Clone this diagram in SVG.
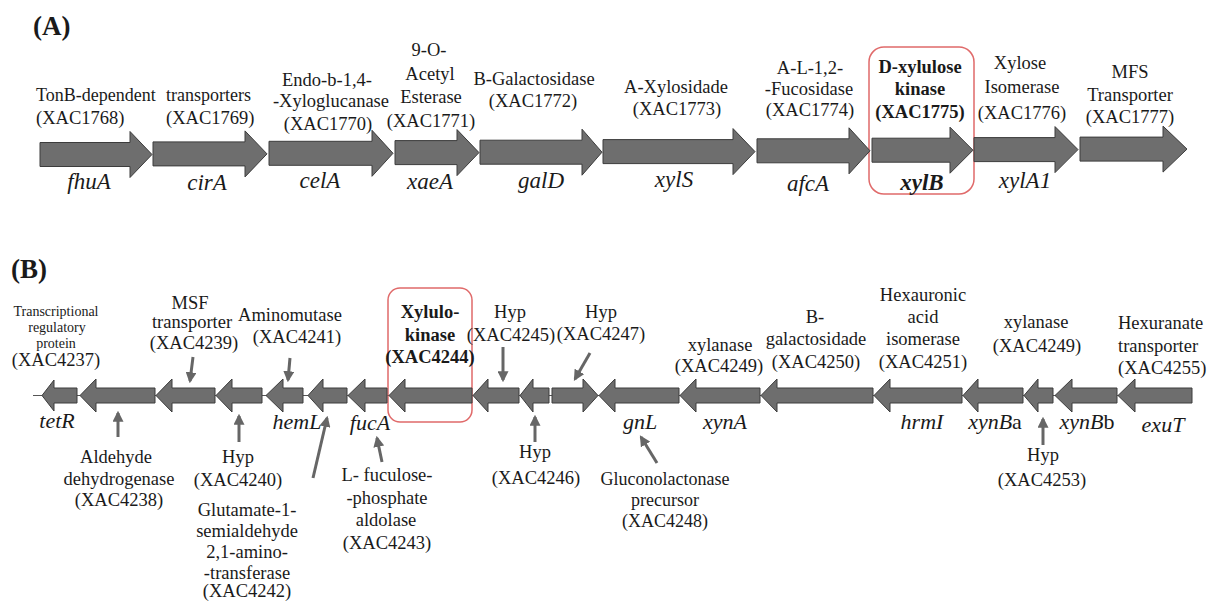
<svg xmlns="http://www.w3.org/2000/svg" width="1210" height="602" viewBox="0 0 1210 602" font-family="'Liberation Serif', 'Times New Roman', Tinos, 'DejaVu Serif', serif">
<style>
text{fill:#1a1a1a}
.l{font-size:18.5px}
.id{font-size:18.5px}
.s18{font-size:18px}
.sm{font-size:14px}
.g{font-size:23px;font-style:italic}
.gb{font-size:22px;font-style:italic}
.b{font-weight:bold}
.m{text-anchor:middle}
.pl{font-size:27px;font-weight:bold}
.gene{fill:#6e6e6e;stroke:#3c3c3c;stroke-width:1}
.hl{fill:none;stroke:#e06a6a;stroke-width:1.5}
.ptr{stroke:#666;stroke-width:3;fill:none}
</style>
<defs>
<marker id="ah" viewBox="0 0 10 10" refX="8" refY="5" markerUnits="userSpaceOnUse" markerWidth="11" markerHeight="11" orient="auto">
<path d="M0,0 L10,5 L0,10 Z" fill="#666"/>
</marker>
</defs>
<rect width="1210" height="602" fill="#fff"/>

<text class="pl" x="33" y="35">(A)</text>
<text class="pl" x="11" y="278">(B)</text>

<rect class="hl" x="869" y="47" width="105" height="147" rx="15"/>

<g id="fhuA"><path class="gene" d="M40,142.5 L130,142.5 L130,131.5 L152,154.5 L130,177.5 L130,166.5 L40,166.5 Z"/>
<text class="s18" x="36" y="101">TonB-dependent</text><text class="id" x="36" y="124">(XAC1768)</text>
<text class="g m" x="89" y="189">fhuA</text></g>
<g id="cirA"><path class="gene" d="M153,141.9 L245,141.9 L245,130.9 L267,153.9 L245,176.9 L245,165.9 L153,165.9 Z"/>
<text class="s18" x="166" y="101">transporters</text><text class="id" x="166" y="124">(XAC1769)</text>
<text class="g m" x="207" y="190">cirA</text></g>
<g id="celA"><path class="gene" d="M269,141.3 L372,141.3 L372,130.3 L393,153.3 L372,176.3 L372,165.3 L269,165.3 Z"/>
<text class="l m" x="327" y="86">Endo-b-1,4-</text><text class="l m" x="331" y="107">-Xyloglucanase</text><text class="id m" x="328" y="130">(XAC1770)</text>
<text class="g m" x="320" y="188">celA</text></g>
<g id="xaeA"><path class="gene" d="M395,140.6 L457,140.6 L457,129.6 L479,152.6 L457,175.6 L457,164.6 L395,164.6 Z"/>
<text class="l m" x="429" y="56">9-O-</text><text class="l m" x="430" y="80">Acetyl</text><text class="l m" x="431" y="103">Esterase</text><text class="id m" x="431" y="127">(XAC1771)</text>
<text class="g m" x="430" y="189">xaeA</text></g>
<g id="galD"><path class="gene" d="M480,140.2 L582,140.2 L582,129.2 L602,152.2 L582,175.2 L582,164.2 L480,164.2 Z"/>
<text class="l m" x="534" y="85">B-Galactosidase</text><text class="id m" x="533" y="107">(XAC1772)</text>
<text class="g m" x="541" y="188">galD</text></g>
<g id="xylS"><path class="gene" d="M603,139.6 L733,139.6 L733,128.6 L755,151.6 L733,174.6 L733,163.6 L603,163.6 Z"/>
<text class="l m" x="676" y="93">A-Xylosidade</text><text class="id m" x="677" y="115">(XAC1773)</text>
<text class="g m" x="674" y="187">xylS</text></g>
<g id="afcA"><path class="gene" d="M757,138.8 L849,138.8 L849,127.8 L870,150.8 L849,173.8 L849,162.8 L757,162.8 Z"/>
<text class="l m" x="810" y="74">A-L-1,2-</text><text class="l m" x="809" y="95">-Fucosidase</text><text class="id m" x="810" y="116">(XAC1774)</text>
<text class="g m" x="808" y="191">afcA</text></g>
<g id="xylB"><path class="gene" d="M872,138.2 L950,138.2 L950,127.2 L973,150.2 L950,173.2 L950,162.2 L872,162.2 Z"/>
<text class="l m b" x="920" y="73">D-xylulose</text><text class="l m b" x="920" y="95">kinase</text><text class="id m b" x="920" y="118">(XAC1775)</text>
<text class="g m b" x="922" y="190">xylB</text></g>
<g id="xylA1"><path class="gene" d="M974,137.6 L1055,137.6 L1055,126.6 L1078,149.6 L1055,172.6 L1055,161.6 L974,161.6 Z"/>
<text class="l m" x="1020" y="69">Xylose</text><text class="l m" x="1022" y="93">Isomerase</text><text class="id m" x="1022" y="119">(XAC1776)</text>
<text class="g m" x="1025" y="188">xylA1</text></g>
<g id="mfs"><path class="gene" d="M1080,137.1 L1163,137.1 L1163,126.1 L1187,149.1 L1163,172.1 L1163,161.1 L1080,161.1 Z"/>
<text class="l m" x="1130" y="78">MFS</text><text class="l m" x="1130" y="101">Transporter</text><text class="id m" x="1130" y="123">(XAC1777)</text></g>

<g id="connectors">
<line x1="33" y1="395.5" x2="1192" y2="395.5" stroke="#555" stroke-width="1"/>
<line class="ptr" x1="193" y1="357" x2="190" y2="381" marker-end="url(#ah)"/>
<line class="ptr" x1="290" y1="358" x2="288" y2="380" marker-end="url(#ah)"/>
<line class="ptr" x1="118" y1="437" x2="118" y2="413" marker-end="url(#ah)"/>
<line class="ptr" x1="239" y1="442" x2="239" y2="416" marker-end="url(#ah)"/>
<line class="ptr" x1="313" y1="478" x2="327" y2="418" marker-end="url(#ah)"/>
<line class="ptr" x1="382" y1="462" x2="377" y2="438" marker-end="url(#ah)"/>
<line class="ptr" x1="503" y1="347" x2="503" y2="380" marker-end="url(#ah)"/>
<line class="ptr" x1="590" y1="353" x2="575" y2="379" marker-end="url(#ah)"/>
<line class="ptr" x1="535" y1="442" x2="535" y2="417" marker-end="url(#ah)"/>
<line class="ptr" x1="657" y1="463" x2="641" y2="437" marker-end="url(#ah)"/>
<line class="ptr" x1="1043" y1="445" x2="1043" y2="419" marker-end="url(#ah)"/>
</g>

<rect class="hl" x="388" y="288" width="84" height="134" rx="12"/>

<g id="tetR"><path class="gene" d="M42,395.5 L54,380 L54,388 L77,388 L77,403 L54,403 L54,411 Z"/>
<text class="sm m" x="56" y="316">Transcriptional</text><text class="sm m" x="57" y="332">regulatory</text><text class="sm m" x="56" y="348">protein</text><text class="id m" x="56" y="366">(XAC4237)</text>
<text class="gb m" x="57" y="428">tetR</text></g>
<g id="xac4238"><path class="gene" d="M80,395.5 L96,379 L96,388 L155,388 L155,403 L96,403 L96,412 Z"/>
<text class="l m" x="116" y="463">Aldehyde</text><text class="l m" x="119" y="485">dehydrogenase</text><text class="id m" x="119" y="506">(XAC4238)</text></g>
<g id="xac4239"><path class="gene" d="M156,395.5 L172,379 L172,388 L215,388 L215,403 L172,403 L172,412 Z"/>
<text class="l m" x="190" y="309">MSF</text><text class="l m" x="192" y="328">transporter</text><text class="id m" x="194" y="349">(XAC4239)</text></g>
<g id="xac4240"><path class="gene" d="M216,395.5 L232,379 L232,388 L262,388 L262,403 L232,403 L232,412 Z"/>
<text class="l m" x="238" y="463">Hyp</text><text class="id m" x="238" y="486">(XAC4240)</text></g>
<g id="hemL"><path class="gene" d="M266,395.5 L283,379 L283,388 L303,388 L303,403 L283,403 L283,412 Z"/>
<text class="l m" x="290" y="321">Aminomutase</text><text class="id m" x="297" y="343">(XAC4241)</text>
<text class="gb m" x="297" y="429">hemL</text></g>
<g id="xac4242"><path class="gene" d="M308,395.5 L323,379 L323,388 L347,388 L347,403 L323,403 L323,412 Z"/>
<text class="l m" x="247" y="516">Glutamate-1-</text><text class="l m" x="247" y="537">semialdehyde</text><text class="l m" x="247" y="558">2,1-amino-</text><text class="l m" x="247" y="579">-transferase</text><text class="id m" x="247" y="597">(XAC4242)</text></g>
<g id="fucA"><path class="gene" d="M348,395.5 L365,379 L365,388 L387,388 L387,403 L365,403 L365,412 Z"/>
<text class="l m" x="387" y="481">L- fuculose-</text><text class="l m" x="387" y="504">-phosphate</text><text class="l m" x="386" y="526">aldolase</text><text class="id m" x="387" y="549">(XAC4243)</text>
<text class="gb m" x="370" y="430">fucA</text></g>
<g id="xac4244"><path class="gene" d="M389,395.5 L405,379 L405,388 L472,388 L472,403 L405,403 L405,412 Z"/>
<text class="l m b" x="430" y="318">Xylulo-</text><text class="l m b" x="430" y="341">kinase</text><text class="id m b" x="430" y="363">(XAC4244)</text></g>
<g id="xac4245"><path class="gene" d="M473,395.5 L488,379 L488,388 L519,388 L519,403 L488,403 L488,412 Z"/>
<text class="l m" x="510" y="318">Hyp</text><text class="id m" x="511" y="341">(XAC4245)</text></g>
<g id="xac4246"><path class="gene" d="M520,395.5 L533,379 L533,388 L549,388 L549,403 L533,403 L533,412 Z"/>
<text class="l m" x="535" y="458">Hyp</text><text class="id m" x="536" y="484">(XAC4246)</text></g>
<g id="xac4247"><path class="gene" d="M552,388 L583,388 L583,379 L598,395.5 L583,412 L583,403 L552,403 Z"/>
<text class="l m" x="601" y="318">Hyp</text><text class="id m" x="601" y="340">(XAC4247)</text></g>
<g id="gnL"><path class="gene" d="M599,395.5 L615,379 L615,388 L679,388 L679,403 L615,403 L615,412 Z"/>
<text class="gb m" x="640" y="429">gnL</text>
<text class="s18 m" x="665" y="485">Gluconolactonase</text><text class="s18 m" x="665" y="506">precursor</text><text class="s18 m" x="665" y="527">(XAC4248)</text></g>
<g id="xynA"><path class="gene" d="M680,395.5 L696,379 L696,388 L760,388 L760,403 L696,403 L696,412 Z"/>
<text class="l m" x="720" y="351">xylanase</text><text class="id m" x="719" y="372">(XAC4249)</text>
<text class="gb m" x="725" y="429">xynA</text></g>
<g id="xac4250"><path class="gene" d="M761,395.5 L777,379 L777,388 L873,388 L873,403 L777,403 L777,412 Z"/>
<text class="l m" x="815" y="323">B-</text><text class="l m" x="816" y="345">galactosidade</text><text class="id m" x="816" y="368">(XAC4250)</text></g>
<g id="hrmI"><path class="gene" d="M874,395.5 L890,379 L890,388 L962,388 L962,403 L890,403 L890,412 Z"/>
<text class="l m" x="923" y="301">Hexauronic</text><text class="l m" x="923" y="323">acid</text><text class="l m" x="923" y="345">isomerase</text><text class="id m" x="923" y="368">(XAC4251)</text>
<text class="gb m" x="922" y="429">hrmI</text></g>
<g id="xynBa"><path class="gene" d="M963,395.5 L978,379 L978,388 L1023,388 L1023,403 L978,403 L978,412 Z"/>
<text class="l m" x="1036" y="328">xylanase</text><text class="id m" x="1037" y="352">(XAC4249)</text>
<text class="m" x="995" y="429" style="font-size:22px"><tspan font-style="italic">xynB</tspan>a</text></g>
<g id="xac4253"><path class="gene" d="M1024,395.5 L1038,379 L1038,388 L1053,388 L1053,403 L1038,403 L1038,412 Z"/>
<text class="l m" x="1043" y="461">Hyp</text><text class="id m" x="1042" y="486">(XAC4253)</text></g>
<g id="xynBb"><path class="gene" d="M1055,395.5 L1072,379 L1072,388 L1117,388 L1117,403 L1072,403 L1072,412 Z"/>
<text class="m" x="1087" y="429" style="font-size:22px"><tspan font-style="italic">xynB</tspan>b</text></g>
<g id="exuT"><path class="gene" d="M1118,395.5 L1135,379 L1135,388 L1192,388 L1192,403 L1135,403 L1135,412 Z"/>
<text class="l" x="1118" y="329">Hexuranate</text><text class="l" x="1118" y="352">transporter</text><text class="id" x="1118" y="374">(XAC4255)</text>
<text class="gb m" x="1163" y="432">exuT</text></g>
</svg>
